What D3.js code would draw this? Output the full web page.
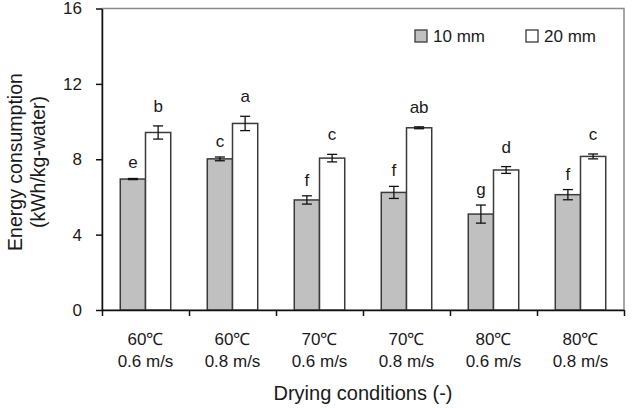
<!DOCTYPE html>
<html>
<head>
<meta charset="utf-8">
<script src="https://cdn.jsdelivr.net/npm/d3@7"></script>
<style>
  body { margin: 0; background: #fff; }
  text { font-family: Arial, "Liberation Sans", sans-serif; fill: #1a1a1a; }
</style>
</head>
<body>
<div id="chart"></div>
<script>
var svgWidth = 633;
var svgHeight = 408;

var margin = { top: 8.5, right: 9, bottom: 98, left: 102 };

var width = svgWidth - margin.left - margin.right;
var height = svgHeight - margin.top - margin.bottom;

// chart data
var temps = ["60℃", "60℃", "70℃", "70℃", "80℃", "80℃"];
var speeds = ["0.6 m/s", "0.8 m/s", "0.6 m/s", "0.8 m/s", "0.6 m/s", "0.8 m/s"];
var series = ["10 mm", "20 mm"];
var energy10 = [6.95, 8.02, 5.84, 6.24, 5.09, 6.12];
var err10 = [0.03, 0.1, 0.22, 0.32, 0.48, 0.27];
var energy20 = [9.42, 9.9, 8.06, 9.67, 7.43, 8.15];
var err20 = [0.35, 0.38, 0.2, 0.05, 0.18, 0.13];
var letters10 = ["e", "c", "f", "f", "g", "f"];
var letters20 = ["b", "a", "c", "ab", "d", "c"];
var yTicks = [0, 4, 8, 12, 16];

var categories = temps.map((t, i) => t + " " + speeds[i]);
var fills = ["#c0c0c0", "#ffffff"];

// rows for each bar
var rows = [];
categories.forEach(function(c, i) {
  rows.push({ cat: c, s: series[0], v: energy10[i], e: err10[i], lab: letters10[i] });
  rows.push({ cat: c, s: series[1], v: energy20[i], e: err20[i], lab: letters20[i] });
});

var svg = d3.select("#chart")
  .append("svg")
  .attr("width", svgWidth)
  .attr("height", svgHeight);

var chartGroup = svg.append("g")
  .attr("transform", `translate(${margin.left}, ${margin.top})`);

var x0 = d3.scaleBand().domain(categories).range([0, width]).padding(0);
var x1 = d3.scaleBand().domain(series)
  .range([x0.bandwidth() * 0.21, x0.bandwidth() * 0.79]);
var xEdge = d3.scaleLinear().domain([0, categories.length]).range([0, width]);
var y = d3.scaleLinear().domain([0, 16]).range([height, 0]);

// plot frame (grey top and right)
chartGroup.append("rect")
  .attr("width", width)
  .attr("height", height)
  .attr("fill", "none")
  .attr("stroke", "#8a8a8a")
  .attr("stroke-width", 1.5);

// bars
chartGroup.selectAll(".bar")
  .data(rows)
  .enter()
  .append("rect")
  .attr("class", "bar")
  .attr("x", d => x0(d.cat) + x1(d.s))
  .attr("y", d => y(d.v))
  .attr("width", x1.bandwidth())
  .attr("height", d => height - y(d.v))
  .attr("fill", d => fills[series.indexOf(d.s)])
  .attr("stroke", "#3a3a3a")
  .attr("stroke-width", 1.5);

// error bars
var errs = chartGroup.selectAll(".err")
  .data(rows)
  .enter()
  .append("g")
  .attr("class", "err")
  .attr("transform", d => `translate(${x0(d.cat) + x1(d.s) + x1.bandwidth() / 2}, 0)`)
  .attr("stroke", "#111")
  .attr("stroke-width", 1.3);

errs.append("line")
  .attr("y1", d => y(d.v + d.e))
  .attr("y2", d => y(d.v - d.e));
errs.append("line")
  .attr("x1", -5).attr("x2", 5)
  .attr("y1", d => y(d.v + d.e))
  .attr("y2", d => y(d.v + d.e));
errs.append("line")
  .attr("x1", -5).attr("x2", 5)
  .attr("y1", d => y(d.v - d.e))
  .attr("y2", d => y(d.v - d.e));

// significance letters
chartGroup.selectAll(".sig")
  .data(rows)
  .enter()
  .append("text")
  .attr("class", "sig")
  .attr("x", d => x0(d.cat) + x1(d.s) + x1.bandwidth() / 2)
  .attr("y", d => y(d.v + d.e) - (d.s === series[0] ? 10 : 14))
  .attr("text-anchor", "middle")
  .attr("font-size", 17)
  .text(d => d.lab);

// y axis
var leftAxis = d3.axisLeft(y)
  .tickValues(yTicks)
  .tickSize(6)
  .tickSizeOuter(0)
  .tickPadding(14);

var yAxis = chartGroup.append("g").call(leftAxis);
yAxis.selectAll("text").attr("font-size", 17).style("font-family", "Arial, 'Liberation Sans', sans-serif").attr("fill", "#1a1a1a");
yAxis.selectAll("line, path").attr("stroke", "#111").attr("stroke-width", 1.5);

// x axis: ticks on category boundaries
var edgeAxis = d3.axisBottom(xEdge)
  .tickValues(d3.range(categories.length + 1))
  .tickSize(6)
  .tickSizeOuter(0)
  .tickFormat("");

var xAxis = chartGroup.append("g")
  .attr("transform", `translate(0, ${height})`)
  .call(edgeAxis);
xAxis.selectAll("line, path").attr("stroke", "#111").attr("stroke-width", 1.5);

// x axis: category labels on two lines
var catAxis = d3.axisBottom(x0).tickSize(0).tickFormat("");
var catGroup = chartGroup.append("g")
  .attr("transform", `translate(0, ${height})`)
  .call(catAxis);
catGroup.select(".domain").remove();
catGroup.selectAll(".tick text")
  .attr("font-size", 17)
  .attr("fill", "#1a1a1a")
  .style("font-family", "Arial, 'Liberation Sans', sans-serif")
  .each(function(d, i) {
    var t = d3.select(this).attr("dy", null).attr("y", null);
    t.append("tspan").attr("x", 0).attr("y", 35).text(temps[i]);
    t.append("tspan").attr("x", 0).attr("y", 56.5).text(speeds[i]);
  });

// axis titles
svg.append("text")
  .attr("x", margin.left + width / 2)
  .attr("y", 400)
  .attr("text-anchor", "middle")
  .attr("font-size", 20)
  .text("Drying conditions (-)");

var yTitle = svg.append("text")
  .attr("transform", "translate(0, 162) rotate(-90)")
  .attr("text-anchor", "middle")
  .attr("font-size", 19.5);
yTitle.append("tspan").attr("x", 0).attr("y", 21.5).text("Energy consumption");
yTitle.append("tspan").attr("x", 0).attr("y", 44.5).text("(kWh/kg-water)");

// legend
var legend = svg.append("g")
  .selectAll("g")
  .data(series)
  .enter()
  .append("g")
  .attr("transform", (d, i) => `translate(${[415, 526][i]}, 30)`);

legend.append("rect")
  .attr("width", 12)
  .attr("height", 12)
  .attr("fill", (d, i) => fills[i])
  .attr("stroke", "#3a3a3a")
  .attr("stroke-width", 1.3);

legend.append("text")
  .attr("x", 18)
  .attr("y", 11.7)
  .attr("font-size", 17)
  .text(d => d);
</script>
</body>
</html>
